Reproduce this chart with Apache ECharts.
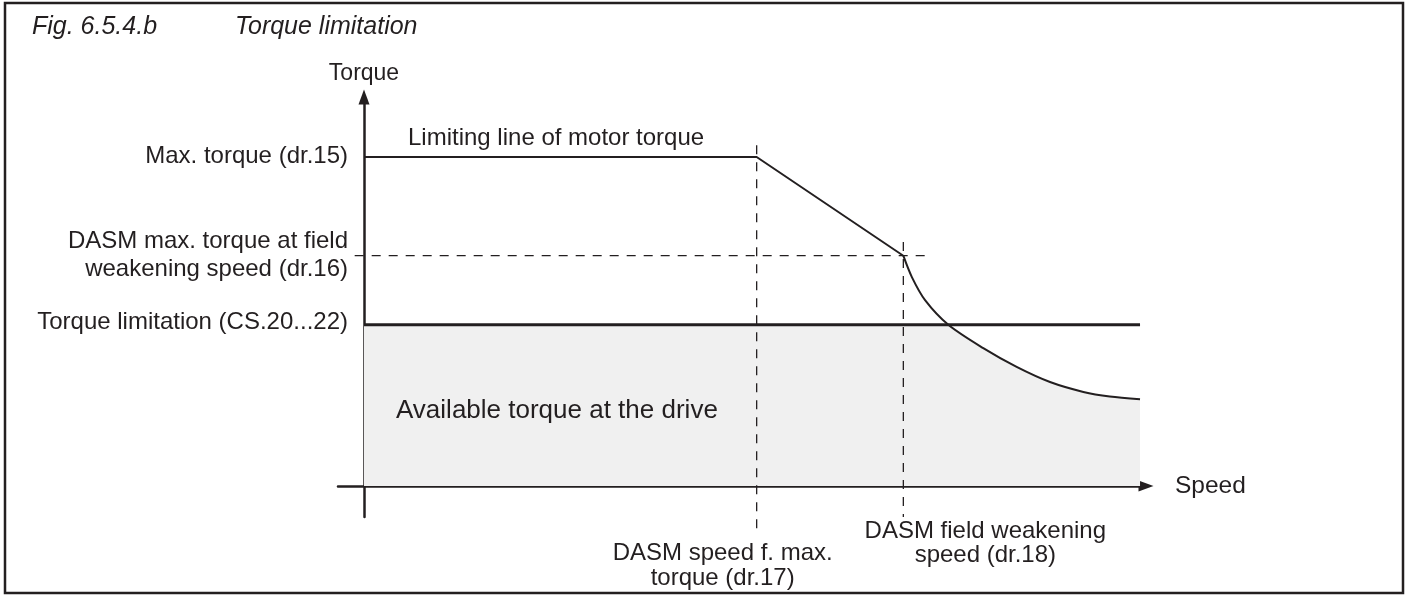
<!DOCTYPE html>
<html>
<head>
<meta charset="utf-8">
<script src="https://cdn.jsdelivr.net/npm/echarts@6/dist/echarts.min.js"></script>
<style>
  html, body { margin: 0; padding: 0; background: #ffffff; }
  #chart { width: 1407px; height: 596px; }
</style>
</head>
<body>
<div id="chart"></div>
<script>
// Axis extents (speed in % of range, torque in % of max. torque)
const speedAxisRange = [-3.35, 100.77];
const torqueAxisRange = [-9.42, 118.24];

// Limiting line of motor torque: constant up to dr.17, then linear down to dr.18
const motorLineSpeed = [0, 50.6, 69.5];
const motorLineTorque = [100, 100, 70];

// Field weakening range beyond dr.18
const weakeningSpeed = [69.5, 70.6, 72.3, 75.3, 79.8, 84.1, 88.4, 92.7, 96.1, 100];
const weakeningTorque = [70, 63.5, 56.5, 49, 41.9, 36.2, 31.6, 28.6, 27.2, 26.4];

// Torque limitation (CS.20...22)
const torqueLimit = 49;
const torqueLimitSpeed = [0, 100];
const crossingSpeed = 75.3;

// Characteristic points
const speedMaxTorque = 50.6;      // dr.17
const fieldWeakeningSpeed = 69.5; // dr.18
const maxTorque = 100;            // dr.15
const fieldWeakeningTorque = 70;  // dr.16

// Extents of the dashed guide lines
const guideDr17Torque = [103.6, -14.3];
const guideDr18Torque = [74.2, -9.4];
const guideDr16Speed = [-1.2, 72.3];

// Texts
const titleParts = ['Fig. 6.5.4.b', 'Torque limitation'];
const torqueLabels = ['Max. torque (dr.15)', 'DASM max. torque at field\nweakening speed (dr.16)', 'Torque limitation (CS.20...22)'];
const speedLabels = ['DASM speed f. max.\ntorque (dr.17)', 'DASM field weakening\nspeed (dr.18)'];
const curveLabel = 'Limiting line of motor torque';
const areaLabel = 'Available torque at the drive';
const axisNames = ['Speed', 'Torque'];

const INK = '#231f20';
const FILL = '#f0f0f0';
const FONT = "'Liberation Sans', Arial, Helvetica, sans-serif";

const zip = (xs, ys) => xs.map((x, i) => [x, ys[i]]);

const weakeningPoints = zip(weakeningSpeed, weakeningTorque);
const availableCurve = weakeningPoints.filter(p => p[0] >= crossingSpeed);
// flat part reaches slightly past the crossing so both fills overlap (no seam)
const availableFlat = [[torqueLimitSpeed[0], torqueLimit], [crossingSpeed + 0.4, torqueLimit]];

const dashed = { color: INK, width: 1.3, type: [9, 8] };

const chart = echarts.init(document.getElementById('chart'), null, { renderer: 'canvas' });

const axisCommon = {
  type: 'value',
  axisTick: { show: false },
  axisLabel: { show: false },
  splitLine: { show: false },
  axisLine: {
    show: true,
    onZero: true,
    symbol: ['none', 'triangle'],
    symbolSize: [11, 15],
    lineStyle: { color: INK, width: 2.5 }
  },
  nameTextStyle: { color: INK, fontSize: 23, fontFamily: FONT }
};

chart.setOption({
  animation: false,
  backgroundColor: '#ffffff',
  grid: { left: 338, right: 261, top: 97, bottom: 79, containLabel: false },
  xAxis: Object.assign({}, axisCommon, {
    min: speedAxisRange[0], max: speedAxisRange[1],
    name: axisNames[0], nameLocation: 'end', nameGap: 29,
    nameTextStyle: { color: INK, fontSize: 24.5, fontFamily: FONT }
  }),
  yAxis: Object.assign({}, axisCommon, {
    min: torqueAxisRange[0], max: torqueAxisRange[1],
    name: axisNames[1], nameLocation: 'end', nameGap: 12,
    nameTextStyle: { color: INK, fontSize: 23, fontFamily: FONT, align: 'center' }
  }),
  series: [
    {
      name: 'available-flat', type: 'line', data: availableFlat, symbol: 'none', z: 1,
      lineStyle: { width: 0 }, areaStyle: { color: FILL, opacity: 1 }
    },
    {
      name: 'available-curve', type: 'line', data: availableCurve, symbol: 'none', z: 1,
      smooth: 0.3,
      lineStyle: { width: 0 }, areaStyle: { color: FILL, opacity: 1 }
    },
    {
      name: 'dr17', type: 'line', symbol: 'none', clip: false, z: 2,
      data: guideDr17Torque.map(t => [speedMaxTorque, t]), lineStyle: dashed
    },
    {
      name: 'dr18', type: 'line', symbol: 'none', clip: false, z: 2,
      data: guideDr18Torque.map(t => [fieldWeakeningSpeed, t]), lineStyle: dashed
    },
    {
      name: 'dr16', type: 'line', symbol: 'none', clip: false, z: 2,
      data: guideDr16Speed.map(s => [s, fieldWeakeningTorque]), lineStyle: dashed
    },
    {
      name: 'torque-limit', type: 'line', symbol: 'none', z: 3,
      data: torqueLimitSpeed.map(s => [s, torqueLimit]),
      lineStyle: { color: INK, width: 3 }
    },
    {
      name: 'motor-line', type: 'line', symbol: 'none', z: 4,
      data: zip(motorLineSpeed, motorLineTorque),
      lineStyle: { color: INK, width: 2 }
    },
    {
      name: 'weakening', type: 'line', symbol: 'none', z: 4,
      data: weakeningPoints, smooth: 0.3,
      lineStyle: { color: INK, width: 2 }
    }
  ]
});

// Text placed relative to the chart's own coordinates
const px = (x, y) => chart.convertToPixel({ xAxisIndex: 0, yAxisIndex: 0 }, [x, y]);
const txt = (x, y, text, extra) => ({
  type: 'text', x, y, z: 20, silent: true,
  style: Object.assign({ text, fill: INK, fontSize: 24, fontFamily: FONT }, extra)
});

const pMax = px(0, maxTorque);
const pFw = px(0, fieldWeakeningTorque);
const pLim = px(0, torqueLimit);
const pOrigin = px(0, 0);
const p17 = px(speedMaxTorque, 0);
const p18 = px(fieldWeakeningSpeed, 0);

chart.setOption({
  graphic: [
    {
      type: 'rect', silent: true, z: 20,
      shape: { x: 5, y: 3, width: 1398, height: 590 },
      style: { fill: 'none', stroke: INK, lineWidth: 2.5 }
    },
    txt(32, 27, titleParts[0], { fontSize: 25, fontStyle: 'italic', verticalAlign: 'middle' }),
    txt(235, 27, titleParts[1], { fontSize: 25, fontStyle: 'italic', verticalAlign: 'middle' }),
    txt(pMax[0] - 16, pMax[1] - 1, torqueLabels[0], { align: 'right', verticalAlign: 'middle' }),
    txt(pFw[0] - 16, pFw[1], torqueLabels[1], { align: 'right', verticalAlign: 'middle', lineHeight: 28 }),
    txt(pLim[0] - 16, pLim[1] - 2, torqueLabels[2], { align: 'right', verticalAlign: 'middle' }),
    txt(pMax[0] + 44, pMax[1] - 19, curveLabel, { verticalAlign: 'middle', fontSize: 24 }),
    txt(pOrigin[0] + 32, pOrigin[1] - 75, areaLabel, { verticalAlign: 'middle', fontSize: 26 }),
    txt(p17[0] - 34, p17[1] + 55, speedLabels[0], { align: 'center', verticalAlign: 'top', lineHeight: 25 }),
    txt(p18[0] + 82, p18[1] + 33, speedLabels[1], { align: 'center', verticalAlign: 'top', lineHeight: 24 })
  ]
});
</script>
</body>
</html>
